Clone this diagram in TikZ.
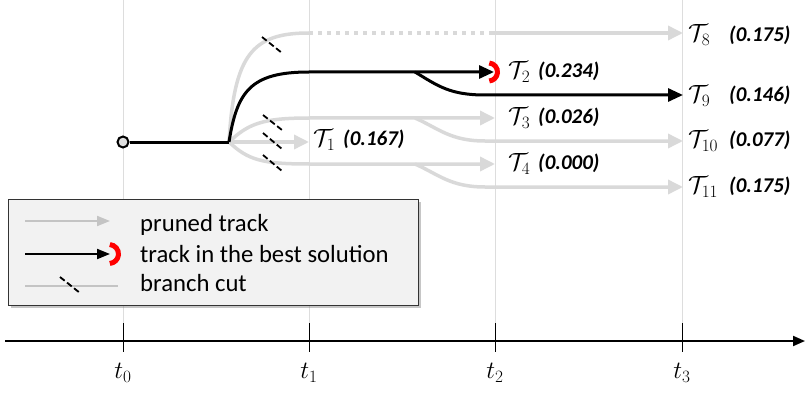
\documentclass[tikz,border=0pt]{standalone}
\usepackage{fontspec}
\setmainfont{Carlito}
\usetikzlibrary{arrows.meta,shadows}
\definecolor{trk}{HTML}{D9D9D9}
\definecolor{legtrk}{HTML}{C4C4C4}
\definecolor{gridc}{HTML}{DDDDDD}
\definecolor{legfill}{HTML}{F2F2F2}
\definecolor{capred}{HTML}{FF0000}
\begin{document}
\begin{tikzpicture}[x=1pt,y=-1pt,
 gridline/.style={gridc,line width=0.8pt},
 tickmark/.style={black,line width=1pt},
 prunedseg/.style={trk,line width=3.5pt},
 prunedtrk/.style={prunedseg,-{Triangle[length=15pt,width=14pt]}},
 bestseg/.style={black,line width=3pt},
 besttrk/.style={bestseg,-{Triangle[length=15pt,width=13pt]}},
 cutmark/.style={black,line width=1.8pt,dash pattern=on 6pt off 3pt},
 redcap/.style={capred,line width=5pt},
 tlab/.style={anchor=west,inner sep=0pt,font=\fontsize{23}{25}\selectfont},
 score/.style={anchor=west,inner sep=0pt,font=\fontsize{21}{23}\selectfont\bfseries\itshape},
 ticklab/.style={inner sep=0pt,font=\fontsize{26}{28}\selectfont},
 legtext/.style={anchor=base west,inner sep=0pt,font=\fontsize{24.7}{26}\selectfont},
]
\useasboundingbox (0,0) rectangle (805,393);

% grid and axis
\foreach \x/\i in {123/0,309/1,495/2,682/3}{
  \draw[gridline] (\x,0) -- (\x,323);
  \draw[tickmark] (\x,323) -- (\x,352);
  \node[ticklab] (tl\i) at (\x,373) {$t_{\i}$};
}
\coordinate (ax0) at (5,341);
\coordinate (ax1) at (805,341);
\draw[line width=2pt,-{Triangle[length=12pt,width=10pt]}] (ax0) -- (ax1);

% nodes and points
\node[circle,draw,line width=2pt,fill=gray!25,inner sep=0pt,minimum size=11pt] (st) at (123,142) {};
\coordinate (b) at (229,142);
\coordinate (br2) at (415,72);
\coordinate (br3) at (415,118);
\coordinate (br4) at (415,164);
\coordinate (e1) at (309,142);
\coordinate (e2) at (494,72);
\coordinate (e3) at (495,118);
\coordinate (e4) at (495,164);
\coordinate (e8) at (683,33);
\coordinate (e9) at (683,95);
\coordinate (e10) at (683,141);
\coordinate (e11) at (683,187);
\coordinate (cap) at (488.5,72);

% pruned tracks
\draw[prunedseg] (b) .. controls (234,55) and (252,33) .. (309,33) coordinate (p8a);
\draw[prunedseg,dash pattern=on 4pt off 5pt] (p8a) -- (490,33) coordinate (p8b);
\draw[prunedtrk] (p8b) -- (e8);
\draw[prunedtrk] (b) .. controls (248,124) and (262,118) .. (309,118) -- (e3);
\draw[prunedtrk] (b) -- (e1);
\draw[prunedtrk] (b) .. controls (248,160) and (262,164) .. (309,164) -- (e4);
\draw[prunedtrk] (br3) .. controls (438,128) and (450,141) .. (485,141) -- (e10);
\draw[prunedtrk] (br4) .. controls (438,174) and (450,187) .. (485,187) -- (e11);

% best tracks
\draw[bestseg] (st) -- (b);
\draw[besttrk] (b) .. controls (237,92) and (250,72) .. (309,72) -- (e2);
\draw[besttrk] (br2) .. controls (438,86) and (450,95) .. (485,95) -- (e9);
\draw[redcap] (cap) ++(-85:9) arc[start angle=-85,end angle=85,radius=9];

% branch cuts
\draw[cutmark] (262,37) -- (282,53);
\draw[cutmark] (263,115) -- (282,130);
\draw[cutmark] (263,133) -- (282,149);
\draw[cutmark] (263,155) -- (282,171);

% labels
\node[tlab] (l1) at (313,140) {$\mathcal{T}_1$};
\node[score] (s1) at (343,139) {(0.167)};
\node[tlab] (l2) at (508,72) {$\mathcal{T}_2$};
\node[score] (s2) at (538,71) {(0.234)};
\node[tlab] (l3) at (508,118) {$\mathcal{T}_3$};
\node[score] (s3) at (538,117) {(0.026)};
\node[tlab] (l4) at (508,164) {$\mathcal{T}_4$};
\node[score] (s4) at (538,163) {(0.000)};
\node[tlab] (l8) at (688,35) {$\mathcal{T}_8$};
\node[score] (s8) at (729,35) {(0.175)};
\node[tlab] (l9) at (688,96) {$\mathcal{T}_9$};
\node[score] (s9) at (729,95) {(0.146)};
\node[tlab] (l10) at (688,141) {$\mathcal{T}_{10}$};
\node[score] (s10) at (729,140) {(0.077)};
\node[tlab] (l11) at (688,187) {$\mathcal{T}_{11}$};
\node[score] (s11) at (729,186) {(0.175)};

% legend
\node[draw=black!80,line width=0.8pt,fill=legfill,
      drop shadow={opacity=0.45,shadow xshift=3pt,shadow yshift=-3pt},
      minimum width=410pt,minimum height=106pt,anchor=north west,inner sep=0pt] (leg) at (8,199) {};
\coordinate (la0) at (25,221); \coordinate (la1) at (110,221);
\draw[legtrk,line width=2pt,-{Triangle[length=13pt,width=10pt]}] (la0) -- (la1);
\node[legtext] (lt1) at (140,231) {pruned track};
\coordinate (lb0) at (25,254); \coordinate (lb1) at (110,254); \coordinate (lcap) at (109,254);
\draw[black,line width=2pt,-{Triangle[length=13pt,width=10pt]}] (lb0) -- (lb1);
\draw[redcap] (lcap) ++(-85:9.5) arc[start angle=-85,end angle=85,radius=9.5];
\node[legtext] (lt2) at (140,262) {track in the best solution};
\coordinate (lc0) at (25,286); \coordinate (lc1) at (118,286);
\draw[legtrk,line width=2pt] (lc0) -- (lc1);
\draw[cutmark] (60,277) -- (80,293);
\node[legtext] (lt3) at (140,291) {branch cut};
\end{tikzpicture}
\end{document}
